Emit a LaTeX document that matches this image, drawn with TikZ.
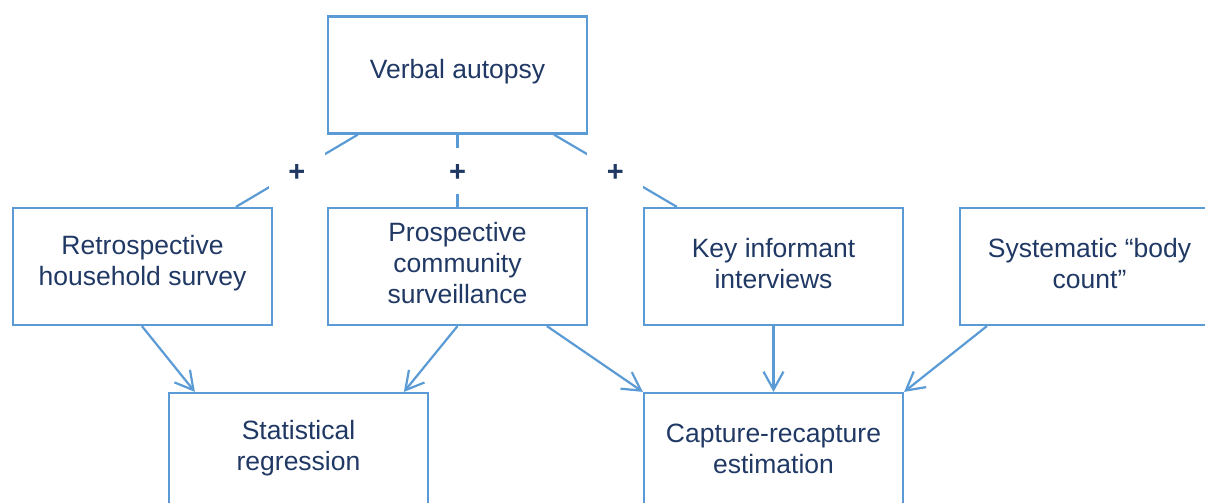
\documentclass[tikz,border=0pt]{standalone}
\usepackage{fontspec}
\setmainfont{Liberation Sans}
\usetikzlibrary{arrows.meta,calc}
\definecolor{lineblue}{HTML}{5B9BD5}
\definecolor{navy}{HTML}{203864}
\begin{document}
\begin{tikzpicture}[x=1pt,y=-1pt,
  box/.style={draw=lineblue, line width=2.2pt, minimum width=259pt, minimum height=117pt, inner sep=0pt},
  boxtext/.style={align=center, text=navy, font=\fontsize{26.5}{31}\selectfont, yshift=3pt},
  link/.style={draw=lineblue, line width=2.2pt},
  arr/.style={link, -{Straight Barb[length=18pt,width=20pt]}},
  plusbox/.style={fill=white, minimum width=56pt, minimum height=46pt, inner sep=0pt},
  plustext/.style={text=navy, font=\fontsize{29}{31}\selectfont\bfseries, yshift=-2pt}]
\useasboundingbox (0,0) rectangle (1205,503);
\clip (0,0) rectangle (1205,503);
\node[box, label={[boxtext]center:Verbal autopsy}] (va) at (457.5,75) {};
\node[box, label={[boxtext]center:Retrospective\\household survey}] (ret) at (142.5,266.5) {};
\node[box, label={[boxtext]center:Prospective\\community\\surveillance}] (pro) at (457.5,266.5) {};
\node[box, label={[boxtext]center:Key informant\\interviews}] (key) at (773.5,266.5) {};
\node[box, label={[boxtext]center:Systematic “body\\count”}] (sys) at (1089.5,266.5) {};
\node[box, label={[boxtext]center:Statistical\\regression}] (stat) at (298.5,451.5) {};
\node[box, label={[boxtext]center:Capture-recapture\\estimation}] (cap) at (773.5,451.5) {};
% plus connectors
\draw[link] ($(va.south west)+(31,0)$) -- node[plusbox, label={[plustext]center:+}] (p1) {} ($(ret.north west)+(224,0)$);
\draw[link] (va.south) -- node[plusbox, label={[plustext]center:+}] (p2) {} (pro.north);
\draw[link] ($(va.south west)+(227,0)$) -- node[plusbox, label={[plustext]center:+}] (p3) {} ($(key.north west)+(34,0)$);
% arrows
\draw[arr] ($(ret.south west)+(130,0)$) -- ($(stat.north west)+(27,0)$);
\draw[arr] (pro.south) -- ($(stat.north west)+(236,0)$);
\draw[arr] ($(pro.south west)+(220,0)$) -- (cap.north west);
\draw[arr] (key.south) -- (cap.north);
\draw[arr] ($(sys.south west)+(28,0)$) -- (cap.north east);
\end{tikzpicture}
\end{document}
